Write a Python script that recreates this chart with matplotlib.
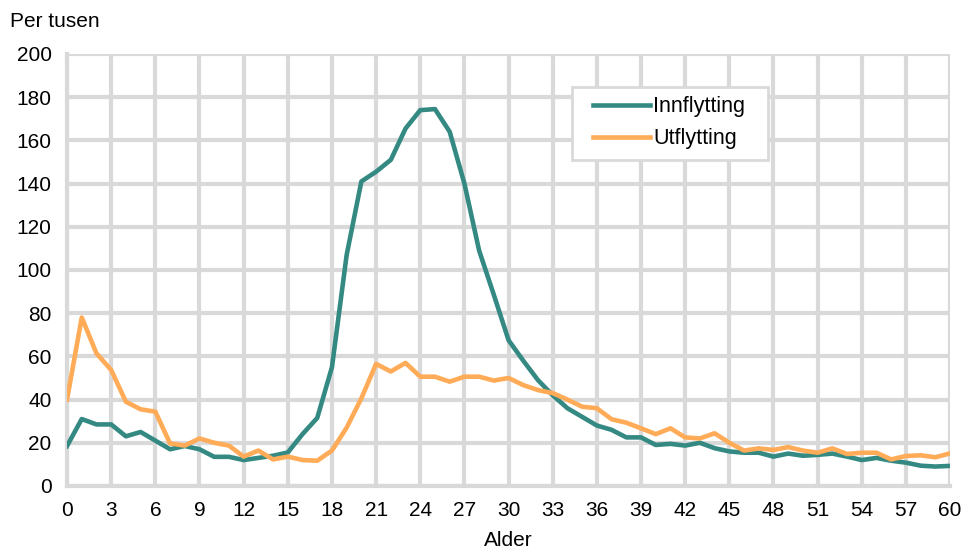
import matplotlib.pyplot as plt
from matplotlib.patches import Rectangle

plt.rcParams['font.family'] = ['Liberation Sans', 'DejaVu Sans']

# Alder 0-60
alder = list(range(0, 61))
innflytting = [18.5, 31, 28.5, 28.5, 23, 25, 21, 17, 18.5, 17,
               13.5, 13.5, 12, 13, 14, 15.5, 24, 31.5, 55, 107,
               141, 145.5, 151, 165.5, 174, 174.5, 164, 140, 109, 88.5,
               67.5, 58, 49, 42, 36, 32, 28, 26, 22.5, 22.5,
               19, 19.5, 18.7, 20, 17.5, 16, 15.4, 15.4, 13.6, 15,
               14, 14.4, 15, 13.6, 12, 13, 11.7, 10.8, 9.4, 9, 9.3]
utflytting = [40, 78, 61.4, 53.7, 39, 35.5, 34.4, 19.7, 18.7, 22,
              20, 18.7, 13.6, 16.4, 12.3, 13.6, 12, 11.7, 16.4, 27,
              40.6, 56.5, 53, 57, 50.6, 50.6, 48.3, 50.6, 50.6, 48.8,
              50, 46.7, 44.4, 43, 40, 36.7, 36, 30.9, 29.3, 26.7,
              24, 26.7, 22.5, 22, 24.4, 20, 16.4, 17.4, 16.7, 18,
              16.4, 15.4, 17.4, 14.8, 15.4, 15.4, 12.3, 13.9, 14.2, 13.3, 15.1]

teal = '#348A83'
orange = '#FFAB57'
grid = '#D9D9D9'

fig = plt.figure(figsize=(9.63, 5.51), dpi=100)
ax = fig.add_axes([0.0696, 0.118, 0.917, 0.784])

ax.plot(alder, innflytting, color=teal, lw=3.3, label='Innflytting', zorder=3)
ax.plot(alder, utflytting, color=orange, lw=3.3, label='Utflytting', zorder=3)

ax.set_xlim(0, 60)
ax.set_ylim(0, 200)
ax.set_xticks(range(0, 61, 3))
ax.set_yticks(range(0, 201, 20))
ax.grid(True, color=grid, lw=3, zorder=0)
ax.set_axisbelow(True)
for side in ['top', 'right']:
    ax.spines[side].set_visible(False)
for side in ['left', 'bottom']:
    ax.spines[side].set_color(grid)
    ax.spines[side].set_linewidth(3)
ax.tick_params(length=0, labelsize=15)
ax.tick_params(axis='x', pad=11)
ax.tick_params(axis='y', pad=11)
ax.set_xlabel('Alder', fontsize=15, labelpad=8)

fig.text(0.010, 0.961, 'Per tusen', fontsize=15, va='center', ha='left')

# legend frame drawn separately so the padding matches
ax.add_patch(Rectangle((0.572, 0.7546), 0.222, 0.169, transform=ax.transAxes,
                       facecolor='white', edgecolor=grid, lw=2, zorder=4,
                       clip_on=False))
ax.legend(loc='upper left', bbox_to_anchor=(0.5957, 0.902), fontsize=15.5,
          frameon=False, handlelength=2.65, borderpad=0, labelspacing=0.5,
          handletextpad=0.15, borderaxespad=0)

fig.savefig('out.png', dpi=100)
